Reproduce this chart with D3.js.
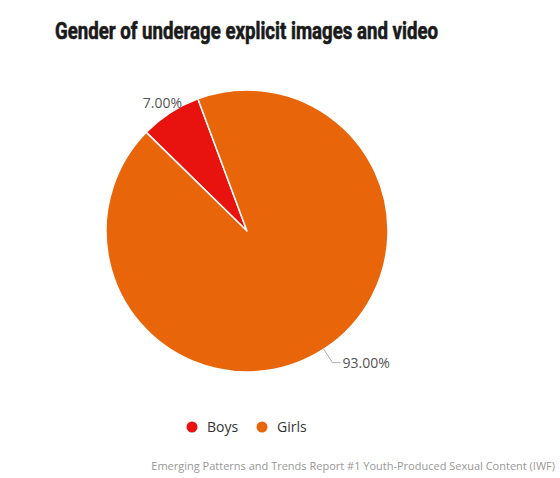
<!DOCTYPE html>
<html><head><meta charset="utf-8">
<script src="https://cdn.jsdelivr.net/npm/d3@7"></script>
<style>body{margin:0;background:#fff}</style>
</head><body>
<svg id="c" width="560" height="478"></svg>
<script>
const categories = ["Boys", "Girls"];
const values = [7.0, 93.0];
const colors = ["#e8130f", "#e8650a"];
const labels = ["7.00%", "93.00%"];
const title = "Gender of underage explicit images and video";
const credit = "Emerging Patterns and Trends Report #1 Youth-Produced Sexual Content (IWF)";

const svg = d3.select("#c");
svg.append("rect").attr("width",560).attr("height",478).attr("fill","#fff");

svg.append("text").attr("x",55).attr("y",39)
  .attr("font-family","'Liberation Sans Narrow','Arial Narrow','Roboto',sans-serif")
  .attr("font-weight","bold").attr("font-size",23).attr("fill","#1a1a1a")
  .attr("stroke","#1a1a1a").attr("stroke-width",0.6)
  .attr("textLength",383).attr("lengthAdjust","spacingAndGlyphs")
  .text(title);

const cx=247, cy=231, r=141;
const start = -45.6*Math.PI/180;
const pie = d3.pie().sort(null).startAngle(start).endAngle(start+2*Math.PI)(values);
const arc = d3.arc().innerRadius(0).outerRadius(r);
const g = svg.append("g").attr("transform",`translate(${cx},${cy})`);
g.selectAll("path").data(pie).join("path")
  .attr("d",arc).attr("fill",(d,i)=>colors[i])
  .attr("stroke","#fff").attr("stroke-width",1.5).attr("stroke-linejoin","round");

// data labels
const lf = "'Open Sans',sans-serif";
{
  const d = pie[0];
  const a=(d.startAngle+d.endAngle)/2;
  const ox=Math.sin(a)*(r+5), oy=-Math.cos(a)*(r+5);
  g.append("text").attr("x",ox-5).attr("y",oy-1).attr("text-anchor","middle")
    .attr("font-family",lf).attr("font-size",14).attr("fill","#555").text(labels[0]);
}
{
  const d = pie[1];
  const a=(d.startAngle+d.endAngle)/2;
  const px=Math.sin(a)*r, py=-Math.cos(a)*r;
  const ox=Math.sin(a)*(r+16), oy=-Math.cos(a)*(r+16);
  const ex = ox + 8;
  g.append("path").attr("d",`M${px},${py}L${ox},${oy}L${ex},${oy}`)
    .attr("fill","none").attr("stroke","#aaa").attr("stroke-width",1);
  g.append("text").attr("x",ex+2).attr("y",oy+5).attr("text-anchor","start")
    .attr("font-family",lf).attr("font-size",14).attr("fill","#555").text(labels[1]);
}

// legend
const lx=[192,262];
categories.forEach((c,i)=>{
  svg.append("circle").attr("cx",lx[i]).attr("cy",427).attr("r",5.5).attr("fill",colors[i]);
  svg.append("text").attr("x",lx[i]+15).attr("y",432)
    .attr("font-family",lf).attr("font-size",14).attr("fill","#333").text(c);
});

svg.append("text").attr("x",555).attr("y",470).attr("text-anchor","end")
  .attr("font-family",lf).attr("font-size",11).attr("fill","#999")
  .text(credit);
</script>
</body></html>
